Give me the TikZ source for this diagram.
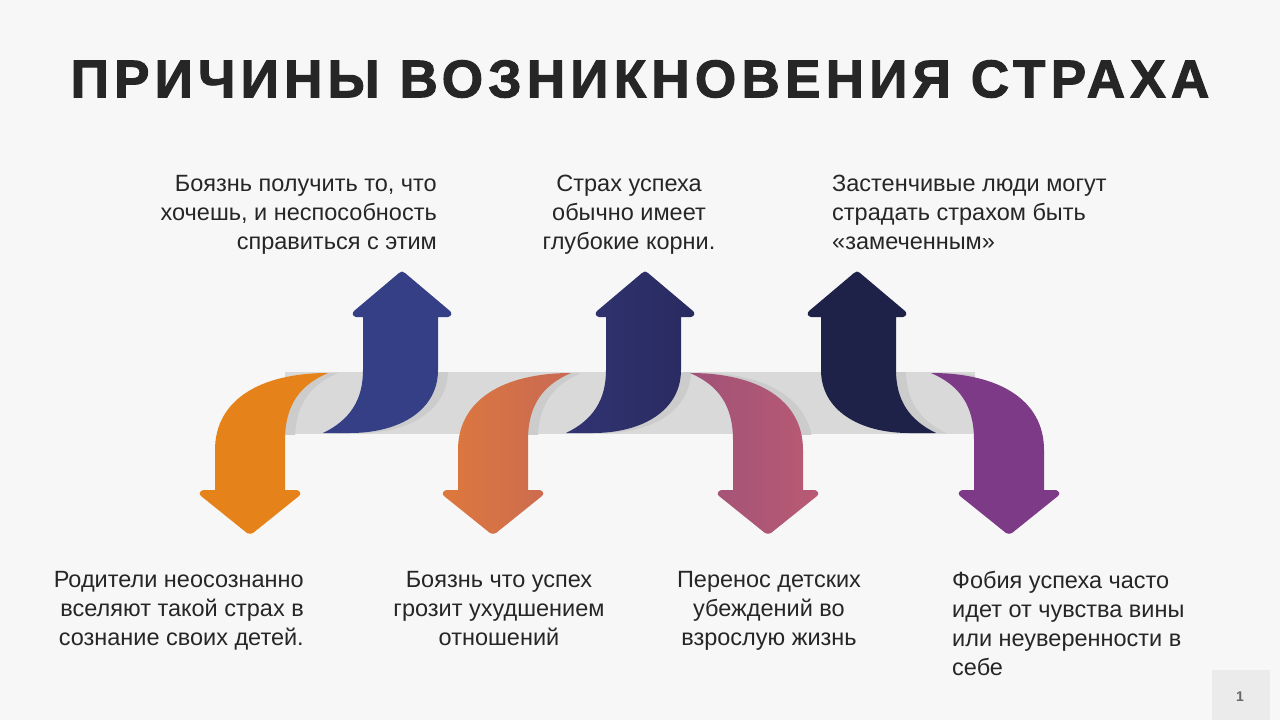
\documentclass[tikz,border=0pt]{standalone}
\usepackage{fontspec}
\setmainfont{Liberation Sans}
\newfontfamily\titlefont[LetterSpace=10,FakeBold=2]{Liberation Sans}
\begin{document}
\begin{tikzpicture}[x=1pt,y=-1pt,
  txt/.style={text=black!85,font=\fontsize{23.5}{29}\selectfont,inner sep=0pt},
  shadowc/.style={fill=black!20}]
\definecolor{bg}{HTML}{F7F7F7}
\fill[bg] (0,0) rectangle (1280,720);
\useasboundingbox (0,0) rectangle (1280,720);
\newcommand\dnpath{(328,373) .. controls (260,373) and (215,400) .. (215,450) -- (215,490) -- (203,490) .. controls (199,492) and (199,494) .. (201,496) -- (247,533) .. controls (249,534) and (251,534) .. (253,533) -- (299,496) .. controls (301,494) and (301,492) .. (297,490) -- (285,490) -- (285,440) .. controls (285,405) and (300,385) .. (328,373) -- cycle}
\newcommand\uppath{(323,433) .. controls (350,420) and (363,400) .. (363,370) -- (363,317) -- (356,317) .. controls (352,316) and (352,313) .. (354,311) -- (399,273) .. controls (401,271) and (403,271) .. (405,273) -- (450,311) .. controls (452,313) and (452,316) .. (448,317) -- (438,317) -- (438,370) .. controls (438,410) and (400,433) .. (350,433) -- cycle}
% band
\fill[black!15] (285,372) rectangle (975,434);
\begin{scope}
\clip (285,372) rectangle (975,434);
\begin{scope}[xshift=10pt]
\fill[shadowc] \dnpath; \fill[shadowc] \uppath;
\begin{scope}[xshift=243pt]\fill[shadowc] \dnpath; \fill[shadowc] \uppath;\end{scope}
\begin{scope}[cm={-1,0,0,1,(1018pt,0pt)}]\fill[shadowc] \dnpath;\end{scope}
\begin{scope}[cm={-1,0,0,1,(1259pt,0pt)}]\fill[shadowc] \dnpath; \fill[shadowc] \uppath;\end{scope}
\end{scope}
\end{scope}
% arrows
\fill[color={rgb,255:red,230;green,130;blue,26}] \dnpath;
\fill[color={rgb,255:red,53;green,63;blue,134}] \uppath;
\begin{scope}[xshift=243pt]
\shade[left color={rgb,255:red,222;green,120;blue,60},right color={rgb,255:red,200;green,105;blue,85}] \dnpath;
\shade[left color={rgb,255:red,50;green,52;blue,115},right color={rgb,255:red,40;green,42;blue,95}] \uppath;
\end{scope}
\begin{scope}[cm={-1,0,0,1,(1018pt,0pt)}]
\shade[left color={rgb,255:red,160;green,82;blue,120},right color={rgb,255:red,185;green,90;blue,115}] \dnpath;
\end{scope}
\begin{scope}[cm={-1,0,0,1,(1259pt,0pt)}]
\fill[color={rgb,255:red,125;green,58;blue,135}] \dnpath;
\fill[color={rgb,255:red,30;green,33;blue,72}] \uppath;
\end{scope}
% title
\node[text=black!85,font=\titlefont\bfseries\fontsize{53}{60}\selectfont,inner sep=0pt] (title) at (640,79) {ПРИЧИНЫ ВОЗНИКНОВЕНИЯ СТРАХА};
% texts
\node[txt,anchor=north east,align=right] (t1) at (437,175) {Боязнь получить то, что\\хочешь, и неспособность\\справиться с этим};
\node[txt,anchor=north,align=center] (t2) at (629,175) {Страх успеха\\обычно имеет\\глубокие корни.};
\node[txt,anchor=north west,align=left] (t3) at (832,175) {Застенчивые люди могут\\страдать страхом быть\\«замеченным»};
\node[txt,anchor=north east,align=right] (b1) at (304,571) {Родители неосознанно\\вселяют такой страх в\\сознание своих детей.};
\node[txt,anchor=north,align=center] (b2) at (499,571) {Боязнь что успех\\грозит ухудшением\\отношений};
\node[txt,anchor=north,align=center] (b3) at (769,571) {Перенос детских\\убеждений во\\взрослую жизнь};
\node[txt,anchor=north west,align=left] (b4) at (952,571) {Фобия успеха часто\\идет от чувства вины\\или неуверенности в\\себе};
% page number
\fill[black!8] (1212,670) rectangle (1270,720);
\node[font=\bfseries\fontsize{14}{16}\selectfont,text=black!60] (pg) at (1240,697) {1};
\end{tikzpicture}
\end{document}
